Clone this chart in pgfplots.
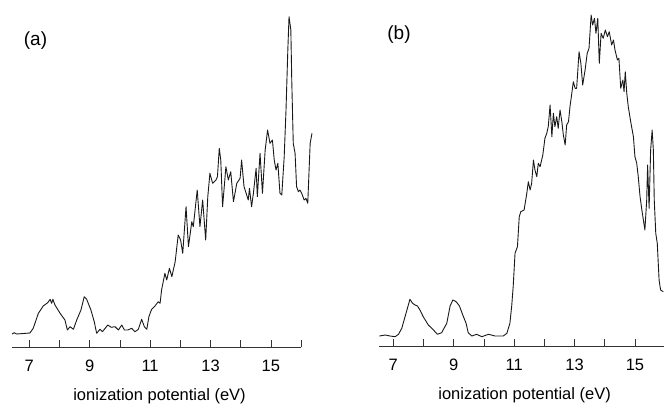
\documentclass[border=0pt]{standalone}
\usepackage{pgfplots}
\pgfplotsset{compat=1.18}
\usepackage{fontspec}
\setmainfont{Liberation Sans}

\pgfplotsset{
  spectrum/.style={
    anchor=south west,
    x=30.2bp, y=1bp,
    ymin=0,
    axis x line=bottom, axis y line=none,
    x axis line style={-, line width=0.9bp, black!80},
    xtick={7,...,16},
    xticklabels={7,,9,,11,,13,,15,},
    tick align=inside,
    major tick length=7bp,
    tick style={black!80, line width=0.7bp},
    clip=false,
    ticklabel style={font=\fontsize{16.5bp}{19bp}\selectfont},
    xticklabel style={inner sep=0pt, yshift=-12.5bp},
    label style={font=\fontsize{16.5bp}{19bp}\selectfont},
    xlabel style={at={(axis description cs:0.5,0)}, anchor=center, yshift=-49bp, xshift=3bp},
    xlabel={ionization potential (eV)},
  },
  trace/.style={black!90, line width=0.9bp, line join=round},
}

\begin{document}
\begin{tikzpicture}[x=1bp,y=1bp]
\useasboundingbox (0,0) rectangle (664,404);

% panel (a)
\begin{axis}[spectrum, at={(12bp,57bp)}, xmin=6.427, xmax=16.0, ymax=347]
\addplot[trace] coordinates {
(6.43,13) (6.50,14.3) (6.58,13) (7.02,14) (7.13,18.7) (7.30,33.7) (7.46,41)
(7.61,44.3) (7.69,47.7) (7.74,43.7) (7.78,47.7) (7.85,42) (8.02,33.7) (8.18,27)
(8.26,17) (8.35,20.3) (8.46,17.7) (8.57,27) (8.71,37) (8.82,50.3) (8.90,47.7)
(9.04,37) (9.15,25.3) (9.23,13.7) (9.34,17.7) (9.42,15.3) (9.60,22) (9.71,19.7)
(9.84,20.3) (9.95,17) (10.06,22) (10.15,17) (10.26,17) (10.39,18.7) (10.50,15.3)
(10.61,17.7) (10.72,27.7) (10.81,20.3) (10.89,17.7) (10.96,30.3) (11.05,37.7)
(11.16,41) (11.27,45.3) (11.33,43.7) (11.38,57) (11.49,73.7) (11.55,67)
(11.64,78.7) (11.72,70.3) (11.83,85.3) (11.93,112) (12.01,107) (12.08,93.7)
(12.19,140.3) (12.27,100.3) (12.38,125.3) (12.43,120.3) (12.56,157) (12.65,120.3)
(12.74,147) (12.84,107) (12.91,150.3) (12.98,173.7) (13.07,163.7) (13.18,167)
(13.23,170.3) (13.29,198.7) (13.34,187) (13.40,140.3) (13.51,180.3) (13.59,167)
(13.67,175.3) (13.76,145.3) (13.87,163.7) (13.98,168.7) (14.03,187) (14.11,160.3)
(14.18,153.7) (14.25,147) (14.29,158.7) (14.36,140.3) (14.42,153.7) (14.51,178.7)
(14.55,150.3) (14.64,193.7) (14.72,153.7) (14.81,197) (14.89,217) (14.97,203.7)
(15.05,207) (15.11,187) (15.17,177) (15.23,183.7) (15.30,153.7) (15.36,152)
(15.44,190.3) (15.50,237) (15.56,297) (15.60,330.3) (15.66,317) (15.69,267)
(15.74,203.7) (15.80,193.7) (15.85,160.3) (15.91,155.3) (15.96,157) (16.02,153.7)
(16.10,147) (16.16,148.7) (16.22,143.7) (16.26,173.7) (16.30,203.7) (16.36,213.7)
};
\end{axis}

% panel (b)
\begin{axis}[spectrum, at={(379.3bp,58bp)}, xmin=6.536, xmax=15.96, ymax=346]
\addplot[trace] coordinates {
(6.54,10) (6.73,11) (6.89,10) (7.06,9.3) (7.17,11.7) (7.28,17.7) (7.42,32.7)
(7.55,46.7) (7.64,42.7) (7.72,41) (7.80,40) (7.88,36) (7.99,29.3) (8.16,21)
(8.33,16) (8.46,11.7) (8.60,13.3) (8.77,22.7) (8.88,40) (8.97,46) (9.08,44.3)
(9.19,40) (9.30,31) (9.41,22.7) (9.48,13.3) (9.60,10) (9.76,11.7) (9.93,9.3)
(10.15,11.7) (10.37,10) (10.64,10) (10.76,12.7) (10.86,22.7) (10.92,40)
(10.97,60) (11.03,92.7) (11.11,99.3) (11.17,129.3) (11.22,134.3) (11.33,136)
(11.42,152.7) (11.47,164.3) (11.53,156) (11.58,162.7) (11.64,186) (11.69,176)
(11.75,169.3) (11.80,182.7) (11.86,179.3) (11.95,191) (12.02,207.7) (12.08,212.7)
(12.13,219.3) (12.19,241) (12.25,209.3) (12.30,232.7) (12.35,219.3) (12.41,229.3)
(12.46,217.7) (12.52,236) (12.58,224.3) (12.63,211) (12.69,201) (12.74,221)
(12.80,224.3) (12.85,239.3) (12.91,252.7) (12.96,264.3) (13.02,257.7) (13.07,257.7)
(13.15,294.3) (13.21,282.7) (13.27,261) (13.35,276) (13.42,292.7) (13.48,297.7)
(13.55,331) (13.60,321) (13.66,327.7) (13.71,312.7) (13.77,327.7) (13.82,282.7)
(13.88,312.7) (13.95,307.7) (14.02,316) (14.09,309.3) (14.15,314.3) (14.23,301)
(14.29,306) (14.34,296) (14.42,286) (14.47,287.7) (14.53,257.7) (14.60,266)
(14.64,254.3) (14.68,274.3) (14.73,252.7) (14.78,239.3) (14.86,224.3) (14.95,209.3)
(15.00,189.3) (15.06,182.7) (15.11,169.3) (15.17,149.3) (15.23,136) (15.28,126)
(15.33,116) (15.39,146) (15.42,181) (15.47,137.7) (15.52,196) (15.57,216)
(15.61,196) (15.64,146) (15.69,112.7) (15.74,102.7) (15.80,66) (15.85,56) (15.94,54.3)
};
\end{axis}

\node[font=\fontsize{19bp}{22bp}\selectfont] at (35.5,363) {(a)};
\node[font=\fontsize{19bp}{22bp}\selectfont] at (399,369) {(b)};
\end{tikzpicture}
\end{document}
